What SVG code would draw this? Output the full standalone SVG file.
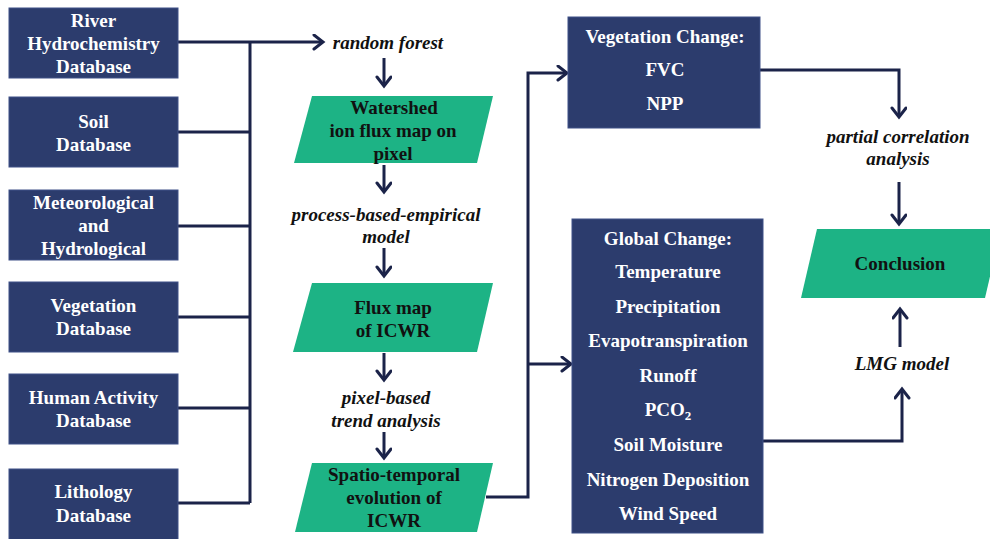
<svg xmlns="http://www.w3.org/2000/svg" width="990" height="539" viewBox="0 0 990 539">
<defs>
<marker id="ah" markerUnits="userSpaceOnUse" markerWidth="14" markerHeight="18" refX="11" refY="8" orient="auto" viewBox="0 0 14 18">
<path d="M2,1 L11,8 L2,15" fill="none" stroke="#1b2349" stroke-width="3" stroke-linecap="round" stroke-linejoin="miter"/>
</marker>
<style>
.box{fill:#2c3c6d;stroke:#3e5087;stroke-width:1}
.para{fill:#1db385}
.wt{font-family:"Liberation Serif","Times New Roman",serif;font-weight:bold;font-size:19px;fill:#ffffff;text-anchor:middle}
.dt{font-family:"Liberation Serif","Times New Roman",serif;font-weight:bold;font-size:19px;fill:#111111;text-anchor:middle}
.it{font-family:"Liberation Serif","Times New Roman",serif;font-weight:bold;font-style:italic;font-size:19px;fill:#111111;text-anchor:middle}
.ln{fill:none;stroke:#1b2349;stroke-width:3}
.ar{fill:none;stroke:#1b2349;stroke-width:3;marker-end:url(#ah)}
</style>
</defs>
<rect width="990" height="539" fill="#ffffff"/>

<g id="connectors">
<line class="ln" x1="250" y1="42" x2="250" y2="503"/>
<line class="ar" x1="178" y1="42" x2="323" y2="42"/>
<line class="ln" x1="178" y1="132" x2="250" y2="132"/>
<line class="ln" x1="178" y1="226" x2="250" y2="226"/>
<line class="ln" x1="178" y1="317" x2="250" y2="317"/>
<line class="ln" x1="178" y1="408" x2="250" y2="408"/>
<line class="ln" x1="178" y1="503" x2="250" y2="503"/>
<line class="ar" x1="384" y1="58" x2="384" y2="86"/>
<line class="ar" x1="384" y1="165" x2="384" y2="192"/>
<line class="ar" x1="384" y1="248" x2="384" y2="276"/>
<line class="ar" x1="384" y1="353" x2="384" y2="380"/>
<line class="ar" x1="384" y1="432" x2="384" y2="458"/>
<polyline class="ar" points="486,497 528,497 528,73 567,73"/>
<line class="ar" x1="528" y1="364" x2="571" y2="364"/>
<polyline class="ar" points="760,70 899,70 899,117"/>
<line class="ar" x1="899" y1="182" x2="899" y2="224"/>
<polyline class="ar" points="763,441 902,441 902,389"/>
<line class="ar" x1="900" y1="347" x2="900" y2="309"/>
</g>

<g id="river">
<rect class="box" x="9" y="8" width="169" height="70"/>
<text class="wt" x="93.5" y="27">River</text>
<text class="wt" x="93.5" y="50">Hydrochemistry</text>
<text class="wt" x="93.5" y="73">Database</text>
</g>
<g id="soil">
<rect class="box" x="9" y="97" width="169" height="70"/>
<text class="wt" x="93.5" y="128">Soil</text>
<text class="wt" x="93.5" y="151">Database</text>
</g>
<g id="meteo">
<rect class="box" x="9" y="190" width="169" height="70"/>
<text class="wt" x="93.5" y="209">Meteorological</text>
<text class="wt" x="93.5" y="232">and</text>
<text class="wt" x="93.5" y="255">Hydrological</text>
</g>
<g id="vegdb">
<rect class="box" x="9" y="282" width="169" height="70"/>
<text class="wt" x="93.5" y="312">Vegetation</text>
<text class="wt" x="93.5" y="335">Database</text>
</g>
<g id="human">
<rect class="box" x="9" y="374" width="169" height="70"/>
<text class="wt" x="93.5" y="404">Human Activity</text>
<text class="wt" x="93.5" y="427">Database</text>
</g>
<g id="litho">
<rect class="box" x="9" y="469" width="169" height="75"/>
<text class="wt" x="93.5" y="498">Lithology</text>
<text class="wt" x="93.5" y="522">Database</text>
</g>

<g id="lbl-rf"><text class="it" x="388" y="49">random forest</text></g>
<g id="watershed">
<polygon class="para" points="312,96 493,96 477,163 294,163"/>
<text class="dt" x="394" y="114">Watershed</text>
<text class="dt" x="393" y="137">ion flux map on</text>
<text class="dt" x="393" y="160">pixel</text>
</g>
<g id="lbl-pbe">
<text class="it" x="386" y="221">process-based-empirical</text>
<text class="it" x="386" y="243">model</text>
</g>
<g id="fluxmap">
<polygon class="para" points="312,283 493,283 477,352 293,352"/>
<text class="dt" x="393" y="314">Flux map</text>
<text class="dt" x="393" y="337">of ICWR</text>
</g>
<g id="lbl-pbt">
<text class="it" x="386" y="404">pixel-based</text>
<text class="it" x="386" y="427">trend analysis</text>
</g>
<g id="spatio">
<polygon class="para" points="312,463 493,463 477,532 295,532"/>
<text class="dt" x="394" y="481">Spatio-temporal</text>
<text class="dt" x="394" y="504">evolution of</text>
<text class="dt" x="394" y="527">ICWR</text>
</g>

<g id="vegchange">
<rect class="box" x="568" y="17" width="192" height="111"/>
<text class="wt" x="665" y="43">Vegetation Change:</text>
<text class="wt" x="665" y="76">FVC</text>
<text class="wt" x="665" y="110">NPP</text>
</g>
<g id="globalchange">
<rect class="box" x="572" y="219" width="191" height="314"/>
<text class="wt" x="668" y="245">Global Change:</text>
<text class="wt" x="668" y="278">Temperature</text>
<text class="wt" x="668" y="313">Precipitation</text>
<text class="wt" x="668" y="347">Evapotranspiration</text>
<text class="wt" x="668" y="382">Runoff</text>
<text class="wt" x="668" y="416">PCO<tspan font-size="13" dy="4">2</tspan></text>
<text class="wt" x="668" y="451">Soil Moisture</text>
<text class="wt" x="668" y="486">Nitrogen Deposition</text>
<text class="wt" x="668" y="520">Wind Speed</text>
</g>

<g id="lbl-pca">
<text class="it" x="898" y="143">partial correlation</text>
<text class="it" x="898" y="165">analysis</text>
</g>
<g id="conclusion">
<polygon class="para" points="817,229 1001,229 985,298 801,298"/>
<text class="dt" x="900" y="270">Conclusion</text>
</g>
<g id="lbl-lmg"><text class="it" x="902" y="370">LMG model</text></g>
</svg>
